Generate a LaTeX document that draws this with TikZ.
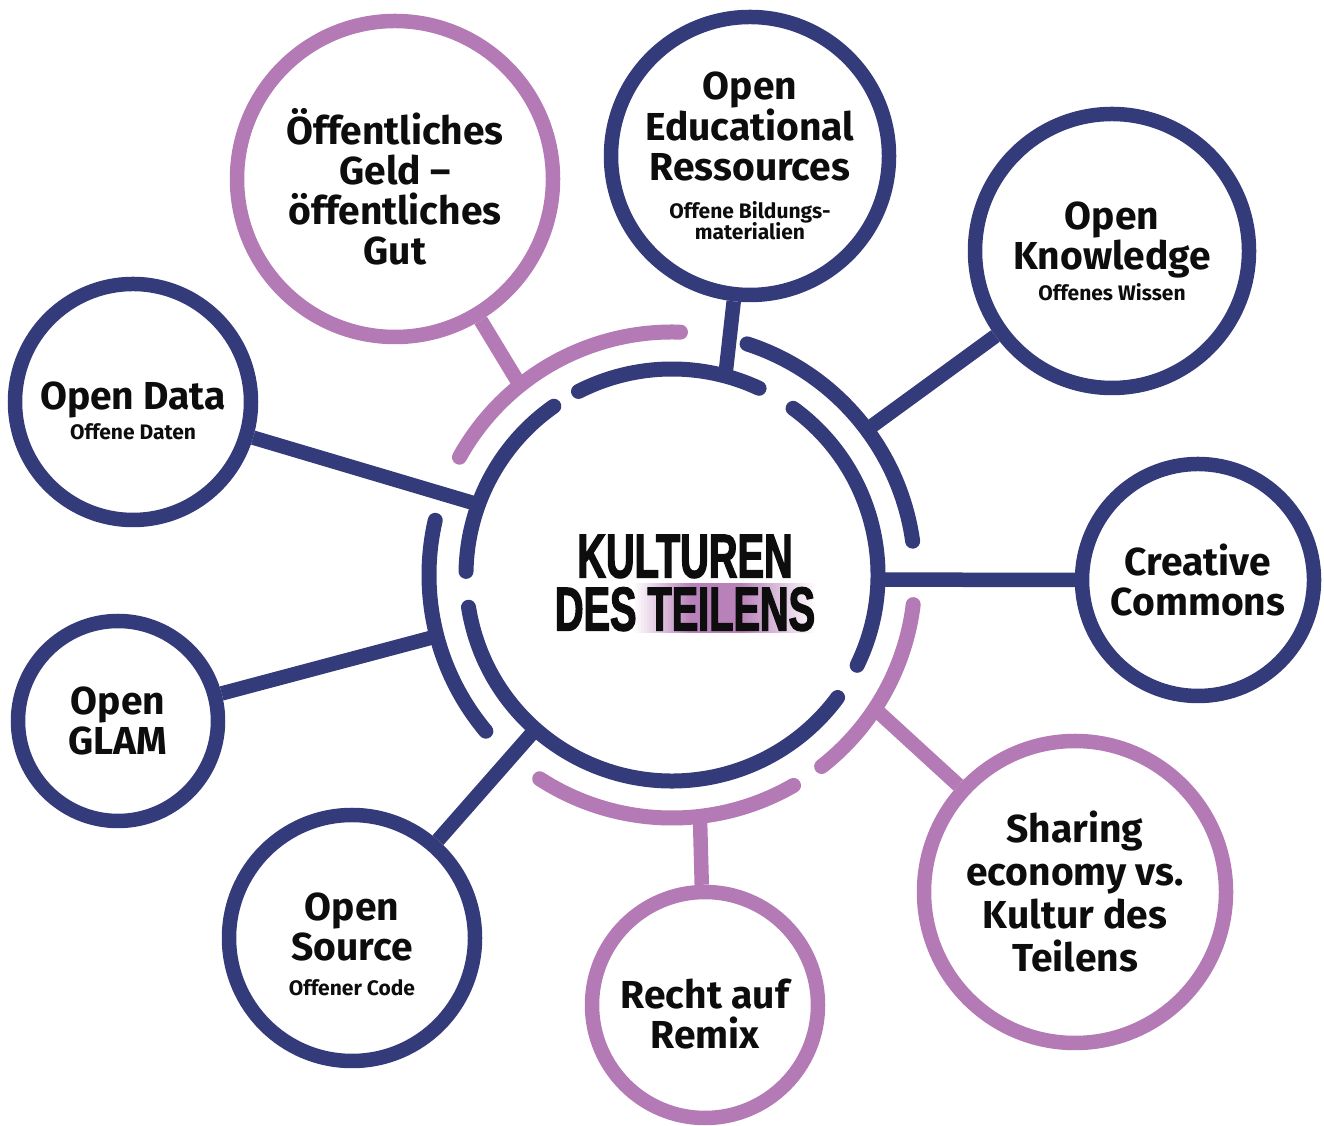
\documentclass[tikz,border=0pt]{standalone}
\usepackage{fontspec}
\usepackage{tikz}
\setmainfont{Fira Sans}
\newfontfamily\kdttitlefont[FakeStretch=0.64, FakeBold=2]{Liberation Sans}
\usetikzlibrary{calc}

\definecolor{kdtnavy}{HTML}{343B7A}
\definecolor{kdtlila}{HTML}{B47AB5}
\definecolor{kdtink}{HTML}{0D0D0D}

\newcommand{\kdtsmall}{\fontsize{21}{21}\selectfont}

\tikzset{
  sat/.style={circle, line width=14.5pt, inner sep=0pt, align=center, text=kdtink,
    font=\bfseries\fontsize{39}{40}\selectfont},
  satnavy/.style={sat, draw=kdtnavy},
  satlila/.style={sat, draw=kdtlila},
  ring/.style={line width=15pt, line cap=round},
  link/.style={line width=14.5pt},
}

\begin{document}
\begin{tikzpicture}[x=1pt, y=1pt]
\useasboundingbox (0,0) rectangle (1324,1126);

\coordinate (C) at (672,551);

% highlight behind TEILENS
\foreach \i in {0,...,60} {
  \pgfmathsetmacro\kdtx{632+3*\i}
  \pgfmathsetmacro\kdtmix{\kdtx<690 ? (\kdtx-632)/58*95 : (\kdtx<740 ? 95 : (815-\kdtx)/75*95)}
  \fill[kdtlila!\kdtmix] (\kdtx,493) rectangle ++(3.3,50);
}
\node[align=center, text=kdtink, font=\kdttitlefont\bfseries\fontsize{62}{53}\selectfont] (title) at (685,543) {KULTUREN\\DES TEILENS};

% inner ring
\draw[ring, kdtnavy] ($(C)+(65:206)$) arc[start angle=65, end angle=117, radius=206];
\draw[ring, kdtnavy] ($(C)+(125:206)$) arc[start angle=125, end angle=179, radius=206];
\draw[ring, kdtnavy] ($(C)+(-26:206)$) arc[start angle=-26, end angle=54, radius=206];
\draw[ring, kdtnavy] ($(C)+(189:206)$) arc[start angle=189, end angle=323.5, radius=206];

% outer ring
\draw[ring, kdtlila] ($(C)+(88:243)$) arc[start angle=88, end angle=151, radius=243];
\draw[ring, kdtnavy] ($(C)+(8:243)$) arc[start angle=8, end angle=72, radius=243];
\draw[ring, kdtnavy] ($(C)+(167:243)$) arc[start angle=167, end angle=220, radius=243];
\draw[ring, kdtlila] ($(C)+(-52:243)$) arc[start angle=-52, end angle=-7, radius=243];
\draw[ring, kdtlila] ($(C)+(237:243)$) arc[start angle=237, end angle=300, radius=243];

% satellites
\node[satlila, minimum size=316pt] (geld) at (395,947) {\mbox{}\\[12pt]Öffentliches\\Geld –\\öffentliches\\Gut};
\node[satnavy, minimum size=278pt] (oer) at (750,970) {Open\\Educational\\Ressources\\[-2pt]\kdtsmall Offene Bildungs-\\[-19pt]\kdtsmall materialien};
\node[satnavy, minimum size=274pt] (knowledge) at (1112,875) {Open\\Knowledge\\[-9pt]\kdtsmall Offenes Wissen};
\node[satnavy, minimum size=232pt] (cc) at (1198,546) {Creative\\Commons};
\node[satlila, minimum size=302pt, font=\bfseries\fontsize{39}{43}\selectfont] (sharing) at (1075,234) {Sharing\\economy vs.\\Kultur des\\Teilens};
\node[satlila, minimum size=226pt] (remix) at (705,121) {\mbox{}\\[7pt]Recht auf\\Remix};
\node[satnavy, minimum size=246pt] (source) at (352,188) {\mbox{}\\[0pt]Open\\Source\\[-5pt]\kdtsmall Offener Code};
\node[satnavy, minimum size=200pt] (glam) at (118,405) {Open\\GLAM};
\node[satnavy, minimum size=236pt] (data) at (133,724) {\mbox{}\\[6pt]Open Data\\[-10pt]\kdtsmall Offene Daten};

% connectors
\coordinate (geldend) at ($(C)+(128.7:243)$);
\coordinate (oerend) at ($(C)+(75:206)$);
\coordinate (knowledgeend) at ($(C)+(36.7:243)$);
\coordinate (ccend) at ($(C)+(-1.3:206)$);
\coordinate (sharingend) at ($(C)+(-33.4:243)$);
\coordinate (remixend) at ($(C)+(-83.4:243)$);
\coordinate (sourceend) at ($(C)+(228.5:206)$);
\coordinate (glamend) at ($(C)+(194.6:243)$);
\coordinate (dataend) at ($(C)+(160:206)$);

\draw[link, kdtlila] (geld) -- (geldend);
\draw[link, kdtnavy] (oer) -- (oerend);
\draw[link, kdtnavy] (knowledge) -- (knowledgeend);
\draw[link, kdtnavy] (cc) -- (ccend);
\draw[link, kdtlila] (sharing) -- (sharingend);
\draw[link, kdtlila] (remix) -- (remixend);
\draw[link, kdtnavy] (source) -- (sourceend);
\draw[link, kdtnavy] (glam) -- (glamend);
\draw[link, kdtnavy] (data) -- (dataend);
\end{tikzpicture}
\end{document}
